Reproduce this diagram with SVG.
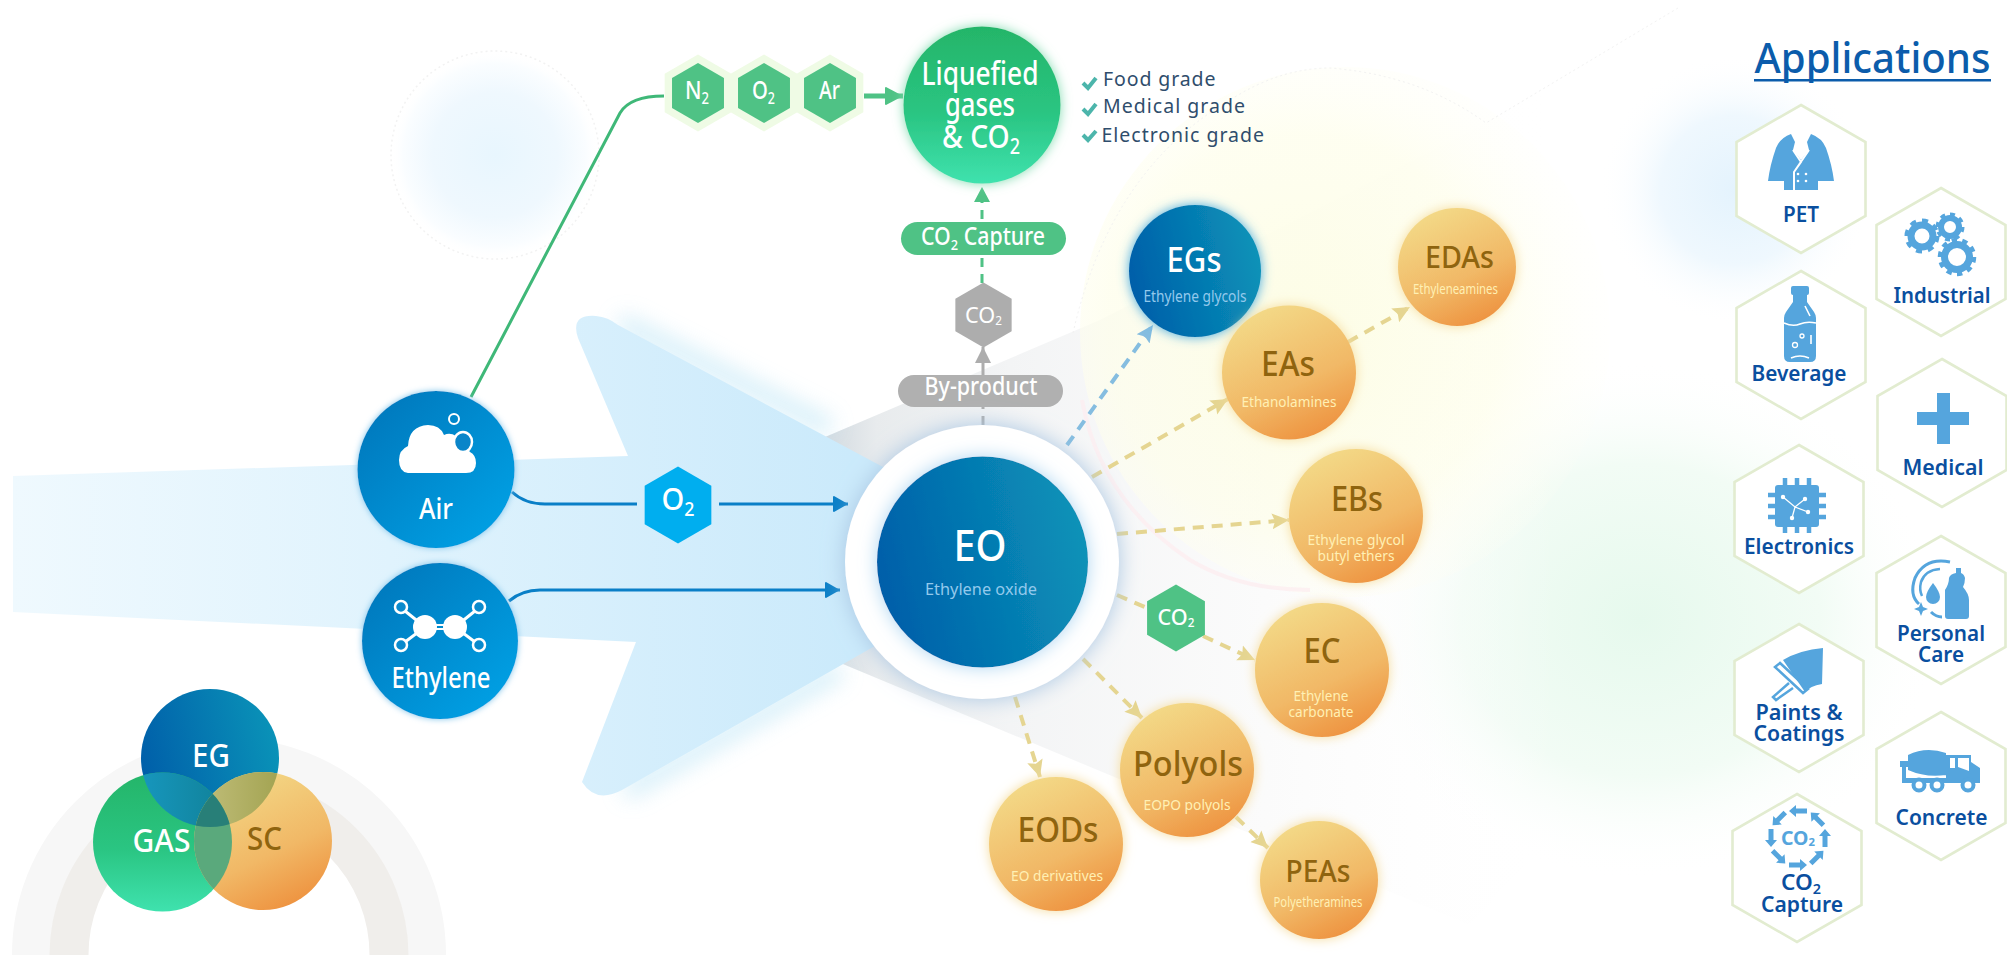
<svg xmlns="http://www.w3.org/2000/svg" width="2007" height="955" viewBox="0 0 2007 955">
<defs>
<style>
text{font-family:"Noto Sans","Open Sans","Liberation Sans",sans-serif;text-anchor:middle;font-weight:500}
.w{fill:#fff}
.big{font-size:35px;font-weight:500}
.or{fill:#8f640f}
.sub{font-size:15px;fill:#fff0b4;font-weight:400}
.bsub{font-size:15.5px;fill:#93c9ec;font-weight:400}
.pill{font-size:25px;fill:#fff}
.grade{font-size:19.5px;fill:#2f4d6c;text-anchor:start;font-weight:400}
.app{font-size:22px;font-weight:600;fill:#0a4f9f}
.ic{fill:#55a5dd}
.icl{fill:none;stroke:#55a5dd}
.wl{fill:none;stroke:#fff;stroke-width:2}
.ah{fill:#fff;stroke:none}
.hexline{fill:#fff;stroke:#e2ecd0;stroke-width:2.6}
.dy{fill:none;stroke:#e5d591;stroke-width:4;stroke-dasharray:11 8;marker-end:url(#mY)}
.dg{fill:none;stroke:#4fc285;stroke-width:3;stroke-dasharray:9 7}
.bl{fill:none;stroke:#0a7fc7;stroke-width:3}
.chk{fill:none;stroke:#4cb5ab;stroke-width:4}
</style>
<linearGradient id="gBlue" x1="0" y1="0.62" x2="1" y2="0.38"><stop offset="0" stop-color="#005ea9"/><stop offset="1" stop-color="#0a93b8"/></linearGradient>
<linearGradient id="gSrc" x1="0.1" y1="0.1" x2="0.9" y2="0.9"><stop offset="0" stop-color="#0179bd"/><stop offset="1" stop-color="#00a0e4"/></linearGradient>
<linearGradient id="gOr" x1="0.28" y1="0.05" x2="0.72" y2="0.97"><stop offset="0" stop-color="#f3d886"/><stop offset="0.6" stop-color="#f1b866"/><stop offset="1" stop-color="#ee9340"/></linearGradient>
<linearGradient id="gGr" x1="0" y1="0" x2="0" y2="1"><stop offset="0" stop-color="#24b569"/><stop offset="0.55" stop-color="#2ac582"/><stop offset="1" stop-color="#3fe2ae"/></linearGradient>
<linearGradient id="gArrow" gradientUnits="userSpaceOnUse" x1="13" y1="0" x2="850" y2="0"><stop offset="0" stop-color="#eff9fe"/><stop offset="0.45" stop-color="#e0f3fd"/><stop offset="1" stop-color="#cbeafb"/></linearGradient>
<linearGradient id="gWedge" gradientUnits="userSpaceOnUse" x1="825" y1="0" x2="1560" y2="0"><stop offset="0" stop-color="#d2dae0"/><stop offset="0.07" stop-color="#e8ebed"/><stop offset="0.25" stop-color="#f3f4f5"/><stop offset="0.6" stop-color="#fafafa" stop-opacity=".8"/><stop offset="1" stop-color="#fff" stop-opacity="0"/></linearGradient>
<linearGradient id="gL1" x1="0" y1="0" x2="1" y2="0"><stop offset="0" stop-color="#1aa2d2"/><stop offset="1" stop-color="#108096"/></linearGradient>
<linearGradient id="gL2" x1="0" y1="0" x2="1" y2="0"><stop offset="0" stop-color="#c3c07d"/><stop offset="1" stop-color="#8f9237"/></linearGradient>
<radialGradient id="gGlowC"><stop offset="0" stop-color="#e8f6fe"/><stop offset="0.6" stop-color="#eff8fe"/><stop offset="0.88" stop-color="#fafdff"/><stop offset="1" stop-color="#fff" stop-opacity="0"/></radialGradient>
<radialGradient id="gGlowB"><stop offset="0" stop-color="#e4f3fd"/><stop offset="0.55" stop-color="#eff8fe"/><stop offset="1" stop-color="#fff" stop-opacity="0"/></radialGradient>
<radialGradient id="gGlowG"><stop offset="0" stop-color="#e6f9ed"/><stop offset="0.6" stop-color="#f2fcf5"/><stop offset="1" stop-color="#fff" stop-opacity="0"/></radialGradient>
<radialGradient id="gGlowY" cx=".42" cy=".5" r=".62"><stop offset="0" stop-color="#fdfde4" stop-opacity=".95"/><stop offset="0.6" stop-color="#fefeea" stop-opacity=".7"/><stop offset="1" stop-color="#fffff8" stop-opacity="0"/></radialGradient>
<filter id="fY" x="-30%" y="-30%" width="160%" height="160%"><feDropShadow dx="0" dy="0" stdDeviation="6" flood-color="#f5dc9c"/></filter>
<filter id="fB" x="-30%" y="-30%" width="160%" height="160%"><feDropShadow dx="0" dy="0" stdDeviation="6" flood-color="#44a9dd"/></filter>
<filter id="fG" x="-30%" y="-30%" width="160%" height="160%"><feDropShadow dx="0" dy="0" stdDeviation="6" flood-color="#82dcb0"/></filter>
<filter id="fS" x="-30%" y="-30%" width="160%" height="160%"><feDropShadow dx="0" dy="0" stdDeviation="3" flood-color="#7fc4ea"/></filter>
<filter id="fE" x="-30%" y="-30%" width="160%" height="160%"><feDropShadow dx="0" dy="0" stdDeviation="11" flood-color="#a9c6e2"/></filter>
<filter id="fI" x="-30%" y="-30%" width="160%" height="160%"><feDropShadow dx="0" dy="0" stdDeviation="9" flood-color="#aed6f2"/></filter>
<filter id="bl14" filterUnits="userSpaceOnUse" x="500" y="220" width="450" height="680"><feGaussianBlur stdDeviation="11"/></filter>
<marker id="mY" markerUnits="userSpaceOnUse" markerWidth="20" markerHeight="20" refX="17" refY="9" orient="auto"><path d="M0 1L17 9L0 17L3 9z" fill="#e5d591"/></marker>
<marker id="mLB" markerUnits="userSpaceOnUse" markerWidth="20" markerHeight="20" refX="17" refY="9" orient="auto"><path d="M0 1L17 9L0 17L3 9z" fill="#85bde0"/></marker>
<marker id="mG" markerUnits="userSpaceOnUse" markerWidth="20" markerHeight="20" refX="15" refY="8" orient="auto"><path d="M0 0L15 8L0 16z" fill="#4fc285"/></marker>
<marker id="mGy" markerUnits="userSpaceOnUse" markerWidth="20" markerHeight="20" refX="16" refY="8" orient="auto"><path d="M0 0L16 8L0 16z" fill="#adadad"/></marker>
<marker id="mB" markerUnits="userSpaceOnUse" markerWidth="20" markerHeight="20" refX="15" refY="9" orient="auto"><path d="M1 1L15 9L1 17Q0 17 0 16V2Q0 1 1 1z" fill="#0a7fc7"/></marker>
<marker id="mG2" markerUnits="userSpaceOnUse" markerWidth="24" markerHeight="24" refX="18" refY="10" orient="auto"><path d="M1 1L18 10L1 19Q0 19 0 18V2Q0 1 1 1z" fill="#4fc285"/></marker>
<polygon id="hx" points="0,-1 .866,-.5 .866,.5 0,1 -.866,.5 -.866,-.5"/>
<polygon id="ah" points="0,-74 64.5,-37 64.5,37 0,74 -64.5,37 -64.5,-37"/>
<clipPath id="cEG"><circle cx="210" cy="758" r="69"/></clipPath>
<clipPath id="cGA"><circle cx="162.500" cy="842" r="69.500"/></clipPath>
<path id="co2a" d="M1789 811L1796 805V808.500H1807V813.500H1796V817z" fill="#55a5dd"/>
</defs>

<rect width="2007" height="955" fill="#fff"/>

<g id="background">
<circle cx="495" cy="155" r="104" fill="url(#gGlowC)" stroke="#f2f2f2" stroke-width="1.500" stroke-dasharray="2 3"/>
<circle cx="1735" cy="190" r="135" fill="url(#gGlowB)"/>
<ellipse cx="1640" cy="620" rx="300" ry="260" fill="url(#gGlowG)"/>
<path d="M825 437L1100 320L1486 123L1678 8V700L1470 925L838 662z" fill="url(#gWedge)"/>
<circle cx="1345" cy="332" r="265" fill="url(#gGlowY)"/>
<path d="M1082 400Q1100 500 1190 560Q1240 590 1310 590" fill="none" stroke="#fceef0" stroke-width="4" opacity=".8"/>
<path d="M1073 333Q1110 170 1230 100Q1280 68 1330 68Q1420 75 1486 123L1678 8" fill="none" stroke="#f2f2f2" stroke-dasharray="2 3"/>
<circle cx="229" cy="955" r="198" fill="none" stroke="#f7f7f7" stroke-width="38"/>
<circle cx="229" cy="955" r="160" fill="none" stroke="#f0eeeb" stroke-width="39"/>
<path d="M620 322L830 428" stroke="#bfe6f6" stroke-width="16" opacity=".75" fill="none" filter="url(#bl14)"/>
<path d="M625 792L840 670" stroke="#bfe6f6" stroke-width="16" opacity=".75" fill="none" filter="url(#bl14)"/>
<path d="M628 456L578 338Q570 314 596 316Q608 317 618 325L982 520V585L622 790Q596 804 582 782L636 642L13 612V476z" fill="url(#gArrow)"/>
</g>

<g id="connectors">
<path d="M471 397L620 113Q630 96 664 96" fill="none" stroke="#3fb878" stroke-width="3"/>
<path d="M864 96H903" fill="none" stroke="#4fc285" stroke-width="5" marker-end="url(#mG2)"/>
<path d="M512 492Q525 504 545 504H637" class="bl"/>
<path d="M719 504H848" class="bl" marker-end="url(#mB)"/>
<path d="M509 601Q522 590 540 590H840" class="bl" marker-end="url(#mB)"/>
<path d="M983 425V375" fill="none" stroke="#adadad" stroke-width="3" stroke-dasharray="9 7"/>
<path d="M983 375V347" fill="none" stroke="#adadad" stroke-width="3" marker-end="url(#mGy)"/>
<path d="M982 283V187" class="dg" marker-end="url(#mG)"/>
<path d="M1067 445L1153 325" fill="none" stroke="#85bde0" stroke-width="4" stroke-dasharray="11 8" marker-end="url(#mLB)"/>
<path d="M1092 477L1228 399" class="dy"/>
<path d="M1348 342L1410 307" class="dy"/>
<path d="M1117 534L1289 520" class="dy"/>
<path d="M1117 595L1147 608" class="dy" style="marker-end:none"/>
<path d="M1203 636L1255 660" class="dy"/>
<path d="M1083 659L1142 718" class="dy"/>
<path d="M1015 697L1040 777" class="dy"/>
<path d="M1236 817L1268 848" class="dy"/>
</g>

<g id="node-liquefied">
<circle cx="982" cy="105" r="78.500" fill="url(#gGr)" filter="url(#fG)"/>
<text class="w" x="980" y="85" font-size="33" textLength="117" lengthAdjust="spacingAndGlyphs">Liquefied</text>
<text class="w" x="980" y="116" font-size="33" textLength="70" lengthAdjust="spacingAndGlyphs">gases</text>
<text class="w" x="981" y="148" font-size="33" textLength="78" lengthAdjust="spacingAndGlyphs">&amp; CO<tspan font-size="21" dy="6">2</tspan></text>
<path class="chk" d="M1083 83L1088 88L1096 78"/>
<path class="chk" d="M1083 109L1088 114L1096 104"/>
<path class="chk" d="M1083 135L1088 140L1096 131"/>
<text class="grade" x="1103" y="86" textLength="112.500" lengthAdjust="spacing">Food grade</text>
<text class="grade" x="1103" y="113" textLength="142" lengthAdjust="spacing">Medical grade</text>
<text class="grade" x="1101.500" y="142" textLength="162.500" lengthAdjust="spacing">Electronic grade</text>
</g>

<g id="node-n2"><use href="#hx" transform="translate(698 93) scale(38.500)" fill="#effbe5"/><use href="#hx" transform="translate(698 93) scale(30)" fill="#4fc285"/><text class="w" x="697" y="99" font-size="26" textLength="24" lengthAdjust="spacingAndGlyphs">N<tspan font-size="16" dy="5">2</tspan></text></g>
<g id="node-o2-top"><use href="#hx" transform="translate(764 93) scale(38.500)" fill="#effbe5"/><use href="#hx" transform="translate(764 93) scale(30)" fill="#4fc285"/><text class="w" x="763.500" y="99" font-size="26" textLength="23" lengthAdjust="spacingAndGlyphs">O<tspan font-size="16" dy="5">2</tspan></text></g>
<g id="node-ar"><use href="#hx" transform="translate(830 93) scale(38.500)" fill="#effbe5"/><use href="#hx" transform="translate(830 93) scale(30)" fill="#4fc285"/><text class="w" x="829.500" y="99" font-size="26" textLength="21" lengthAdjust="spacingAndGlyphs">Ar</text></g>

<g id="node-co2capture"><rect x="901" y="222" width="165" height="33" rx="16.500" fill="#4fc285"/><text class="pill" x="983" y="245" textLength="124" lengthAdjust="spacingAndGlyphs">CO<tspan font-size="15" dy="5">2</tspan><tspan dy="-5"> Capture</tspan></text></g>
<g id="node-co2-gray"><use href="#hx" transform="translate(983.500 315) scale(32.500)" fill="#adadad"/><text class="w" x="983.500" y="323" style="font-weight:400" font-size="22" textLength="37" lengthAdjust="spacingAndGlyphs">CO<tspan font-size="12" dy="2">2</tspan></text></g>
<g id="node-byproduct"><rect x="898" y="375" width="165" height="32" rx="16" fill="#b0b0b0"/><text class="pill" x="981" y="395" textLength="113" lengthAdjust="spacingAndGlyphs">By-product</text></g>

<g id="node-air"><circle cx="436" cy="469.500" r="78.500" fill="url(#gSrc)" filter="url(#fS)"/>
<path class="ah" d="M408 473Q399 472 399 460Q399 450 408 446Q409 426 428 425Q440 425 444 435Q450 432 456 436L470 452Q476 455 476 463Q476 473 466 473z"/>
<circle cx="454" cy="419" r="5" fill="none" stroke="#fff" stroke-width="2"/>
<ellipse cx="463" cy="442" rx="9" ry="10" fill="#0a85c9" stroke="#fff" stroke-width="2.500"/>
<text class="w" x="436" y="519" font-size="28" textLength="34" lengthAdjust="spacingAndGlyphs">Air</text></g>

<g id="node-ethylene"><circle cx="440" cy="641" r="78" fill="url(#gSrc)" filter="url(#fS)"/>
<g stroke="#fff" stroke-width="3" fill="none"><path d="M405 611L425 627L401 645"/><path d="M475 611L455 627L479 645"/><path d="M432 625H448M432 629H448" stroke-width="2"/></g>
<circle cx="425" cy="627" r="12" fill="#fff"/><circle cx="455" cy="627" r="12" fill="#fff"/>
<g fill="#0a8acd" stroke="#fff" stroke-width="2.500"><circle cx="401" cy="607" r="6"/><circle cx="479" cy="607" r="6"/><circle cx="401" cy="645" r="6"/><circle cx="479" cy="645" r="6"/></g>
<text class="w" x="441" y="688" font-size="29" textLength="99" lengthAdjust="spacingAndGlyphs">Ethylene</text></g>

<g id="node-o2"><use href="#hx" transform="translate(678 505) scale(38.500)" fill="#00aeef"/><text class="w" x="678" y="510" font-size="31" textLength="33" lengthAdjust="spacingAndGlyphs">O<tspan font-size="19" dy="6">2</tspan></text></g>

<g id="node-eo"><circle cx="982" cy="562" r="137" fill="#fff" filter="url(#fE)"/><circle cx="982.500" cy="562" r="105.500" fill="url(#gBlue)" filter="url(#fI)"/>
<text class="w" x="980" y="561" font-size="44" textLength="53" lengthAdjust="spacingAndGlyphs">EO</text>
<text class="bsub" x="981" y="595" style="font-size:17px" textLength="112" lengthAdjust="spacingAndGlyphs">Ethylene oxide</text></g>

<g id="node-egs"><circle cx="1195" cy="271" r="66" fill="url(#gBlue)" filter="url(#fB)"/><text class="w big" x="1194" y="272" textLength="55" lengthAdjust="spacingAndGlyphs">EGs</text><text class="bsub" x="1195" y="302" textLength="103" lengthAdjust="spacingAndGlyphs">Ethylene glycols</text></g>
<g id="node-edas"><circle cx="1457" cy="267" r="59" fill="url(#gOr)" filter="url(#fY)"/><text class="big or" style="font-size:31px" x="1459.500" y="268" textLength="69" lengthAdjust="spacingAndGlyphs">EDAs</text><text class="sub" style="font-size:13.500px" x="1455.500" y="294" textLength="85" lengthAdjust="spacingAndGlyphs">Ethyleneamines</text></g>
<g id="node-eas"><circle cx="1289" cy="372.500" r="67" fill="url(#gOr)" filter="url(#fY)"/><text class="big or" x="1288" y="376" textLength="54" lengthAdjust="spacingAndGlyphs">EAs</text><text class="sub" x="1289" y="407" textLength="95" lengthAdjust="spacingAndGlyphs">Ethanolamines</text></g>
<g id="node-ebs"><circle cx="1356" cy="516" r="67" fill="url(#gOr)" filter="url(#fY)"/><text class="big or" x="1357" y="511" textLength="52" lengthAdjust="spacingAndGlyphs">EBs</text><text class="sub" x="1356" y="545" textLength="97" lengthAdjust="spacingAndGlyphs">Ethylene glycol</text><text class="sub" x="1356" y="561" textLength="77" lengthAdjust="spacingAndGlyphs">butyl ethers</text></g>
<g id="node-co2-green"><use href="#hx" transform="translate(1176 618) scale(33.400)" fill="#4fc285"/><text class="w" x="1176" y="625" font-size="22" textLength="37" lengthAdjust="spacingAndGlyphs">CO<tspan font-size="12" dy="2">2</tspan></text></g>
<g id="node-ec"><circle cx="1322" cy="670" r="67" fill="url(#gOr)" filter="url(#fY)"/><text class="big or" x="1322" y="663" textLength="37" lengthAdjust="spacingAndGlyphs">EC</text><text class="sub" x="1321" y="701" textLength="55" lengthAdjust="spacingAndGlyphs">Ethylene</text><text class="sub" x="1321" y="717" textLength="65" lengthAdjust="spacingAndGlyphs">carbonate</text></g>
<g id="node-eods"><circle cx="1056" cy="844" r="67" fill="url(#gOr)" filter="url(#fY)"/><text class="big or" x="1058" y="842" textLength="81" lengthAdjust="spacingAndGlyphs">EODs</text><text class="sub" x="1057" y="881" textLength="92" lengthAdjust="spacingAndGlyphs">EO derivatives</text></g>
<g id="node-polyols"><circle cx="1187" cy="770" r="67" fill="url(#gOr)" filter="url(#fY)"/><text class="big or" x="1188" y="776" textLength="110" lengthAdjust="spacingAndGlyphs">Polyols</text><text class="sub" x="1187" y="810" textLength="87" lengthAdjust="spacingAndGlyphs">EOPO polyols</text></g>
<g id="node-peas"><circle cx="1319" cy="880" r="59" fill="url(#gOr)" filter="url(#fY)"/><text class="big or" style="font-size:31px" x="1318" y="882" textLength="65" lengthAdjust="spacingAndGlyphs">PEAs</text><text class="sub" style="font-size:13.500px" x="1318" y="907" textLength="89" lengthAdjust="spacingAndGlyphs">Polyetheramines</text></g>

<g id="node-venn">
<circle cx="210" cy="758" r="69" fill="url(#gBlue)"/>
<circle cx="162.500" cy="842" r="69.500" fill="url(#gGr)"/>
<circle cx="263" cy="841" r="69" fill="url(#gOr)"/>
<g clip-path="url(#cEG)"><circle cx="162.500" cy="842" r="69.500" fill="url(#gL1)"/><circle cx="263" cy="841" r="69" fill="url(#gL2)"/></g>
<g clip-path="url(#cGA)"><circle cx="263" cy="841" r="69" fill="#5aa97c"/></g>
<g clip-path="url(#cEG)"><g clip-path="url(#cGA)"><circle cx="263" cy="841" r="69" fill="#287f78"/></g></g>
<text class="w" x="211" y="767" font-size="33" textLength="38" lengthAdjust="spacingAndGlyphs">EG</text>
<text class="w" x="161.500" y="852" font-size="33" textLength="58" lengthAdjust="spacingAndGlyphs">GAS</text>
<text class="or" x="264.500" y="850" font-size="33" textLength="35" lengthAdjust="spacingAndGlyphs">SC</text>
</g>

<g id="applications">
<text x="1872.500" y="73" font-size="41" fill="#0b5cab" textLength="236" lengthAdjust="spacingAndGlyphs">Applications</text>
<rect x="1754" y="79" width="237" height="2.500" fill="#0b5cab"/>
</g>

<g id="app-pet"><use href="#ah" class="hexline" transform="translate(1801 179)"/>
<path class="ic" d="M1791 134L1795 142L1793 150L1801 160L1809 150L1807 142L1811 134Q1822 138 1826 148Q1832 165 1834 181H1818V190H1784V181H1768Q1770 165 1776 148Q1780 138 1791 134z"/>
<path class="wl" d="M1793 150L1801 162L1794 172V190M1809 150L1794 172"/>
<g fill="#fff"><circle cx="1798" cy="174" r="1.300"/><circle cx="1806" cy="174" r="1.300"/><circle cx="1798" cy="181" r="1.300"/><circle cx="1806" cy="181" r="1.300"/></g>
<text class="app" x="1801" y="222" textLength="36" lengthAdjust="spacingAndGlyphs">PET</text></g>

<g id="app-industrial"><use href="#ah" class="hexline" transform="translate(1941 262)"/>
<g class="icl"><circle cx="1922" cy="236" r="11" stroke-width="7"/><circle cx="1922" cy="236" r="15.500" stroke-width="4" pathLength="16" stroke-dasharray="1 1"/>
<circle cx="1950" cy="227" r="9" stroke-width="6"/><circle cx="1950" cy="227" r="12.500" stroke-width="4" pathLength="16" stroke-dasharray="1 1"/>
<circle cx="1957" cy="257" r="12.500" stroke-width="7"/><circle cx="1957" cy="257" r="17" stroke-width="4.500" pathLength="20" stroke-dasharray="1 1"/></g>
<text class="app" x="1942" y="303" textLength="97" lengthAdjust="spacingAndGlyphs">Industrial</text></g>

<g id="app-beverage"><use href="#ah" class="hexline" transform="translate(1801 345)"/>
<path class="ic" d="M1793 286H1807Q1809 286 1809 288V293Q1809 295 1807 295V302L1814 312Q1816 315 1816 318V356Q1816 362 1810 362H1790Q1784 362 1784 356V318Q1784 315 1786 312L1793 302V295Q1791 295 1791 293V288Q1791 286 1793 286z"/>
<path class="wl" d="M1784 323Q1793 327 1800 324T1816 323M1805 306L1810 316M1811 335V344M1791 358Q1800 354 1809 358" style="stroke-width:1.600"/>
<circle cx="1802" cy="336" r="2" class="wl" style="stroke-width:1.300"/><circle cx="1795" cy="345" r="2.500" class="wl" style="stroke-width:1.300"/>
<text class="app" x="1799" y="381" textLength="95" lengthAdjust="spacingAndGlyphs">Beverage</text></g>

<g id="app-medical"><use href="#ah" class="hexline" transform="translate(1942 433)"/>
<path class="ic" d="M1937 393H1950V412H1969V425H1950V444H1937V425H1917V412H1937z"/>
<text class="app" x="1943" y="475" textLength="81" lengthAdjust="spacingAndGlyphs">Medical</text></g>

<g id="app-electronics"><use href="#ah" class="hexline" transform="translate(1799 519)"/>
<path class="icl" stroke-width="4.500" d="M1785 478V533M1797 478V533M1809 478V533M1768 495H1826M1768 506H1826M1768 517H1826"/>
<rect class="ic" x="1775" y="485" width="44" height="42" rx="3"/>
<path class="wl" style="stroke-width:1.300" d="M1783 497L1795 507L1805 499M1795 507L1808 512M1795 507L1792 518"/>
<g fill="#fff"><circle cx="1783" cy="497" r="2.200"/><circle cx="1805" cy="499" r="2.200"/><circle cx="1808" cy="512" r="2.200"/><circle cx="1792" cy="518" r="2.200"/></g>
<text class="app" x="1799" y="554" textLength="110" lengthAdjust="spacingAndGlyphs">Electronics</text></g>

<g id="app-personal"><use href="#ah" class="hexline" transform="translate(1941 610)"/>
<path class="ic" d="M1956 568H1961V573Q1964 574 1965 578Q1965 583 1963 587Q1969 594 1969 600V616Q1969 619 1966 619H1948Q1945 619 1945 616V590Q1949 584 1949 578Q1950 574 1956 573z"/>
<path class="icl" stroke-width="3" d="M1950 562Q1925 557 1915 578Q1909 595 1919 604M1931 612Q1936 617 1942 617"/>
<path class="icl" stroke-width="2.500" d="M1940 569Q1925 570 1921 582Q1919 590 1922 596"/>
<path class="ic" d="M1933 583Q1940 592 1940 597A7 7 0 0 1 1926 597Q1926 592 1933 583z"/>
<path class="ic" d="M1921 602L1923 607L1928 609L1923 611L1921 616L1919 611L1914 609L1919 607z"/>
<text class="app" x="1941" y="641" textLength="88" lengthAdjust="spacingAndGlyphs">Personal</text><text class="app" x="1941" y="662" textLength="46" lengthAdjust="spacingAndGlyphs">Care</text></g>

<g id="app-paints"><use href="#ah" class="hexline" transform="translate(1799 698)"/>
<path class="ic" d="M1783 660Q1800 650 1823 648L1822 684Q1810 686 1805 692z"/>
<path class="icl" stroke-width="2.500" d="M1775 667L1780 663L1808 689L1803 693zM1789 683L1773 697L1776 700L1793 688"/>
<text class="app" x="1799" y="720" textLength="87" lengthAdjust="spacingAndGlyphs">Paints &amp;</text><text class="app" x="1799" y="741" textLength="91" lengthAdjust="spacingAndGlyphs">Coatings</text></g>

<g id="app-concrete"><use href="#ah" class="hexline" transform="translate(1941 786)"/>
<path class="ic" d="M1908 755Q1926 746 1946 753V775Q1926 778 1908 770zM1900 761H1908V767H1900zM1902 765H1906V778H1946V755H1971V762L1980 768V783H1902z"/>
<path fill="#fff" d="M1950 758H1955V768H1950zM1958 758H1969V771L1958 767z"/>
<g fill="#fff" stroke="#55a5dd" stroke-width="4"><circle cx="1919" cy="785" r="5.500"/><circle cx="1937" cy="785" r="5.500"/><circle cx="1968" cy="785" r="5.500"/></g>
<text class="app" x="1941.500" y="825" textLength="92" lengthAdjust="spacingAndGlyphs">Concrete</text></g>

<g id="app-capture"><use href="#ah" class="hexline" transform="translate(1797 868)"/>
<use href="#co2a"/><use href="#co2a" transform="rotate(45 1798 838)"/><use href="#co2a" transform="rotate(90 1798 838)"/><use href="#co2a" transform="rotate(135 1798 838)"/><use href="#co2a" transform="rotate(180 1798 838)"/><use href="#co2a" transform="rotate(225 1798 838)"/><use href="#co2a" transform="rotate(270 1798 838)"/><use href="#co2a" transform="rotate(315 1798 838)"/>
<text x="1798" y="845" font-size="19" style="font-weight:700" fill="#55a5dd" textLength="34" lengthAdjust="spacingAndGlyphs">CO<tspan font-size="11" dy="1">2</tspan></text>
<text class="app" x="1801" y="890" textLength="40" lengthAdjust="spacingAndGlyphs">CO<tspan font-size="14" dy="4">2</tspan></text><text class="app" x="1802" y="912" textLength="82" lengthAdjust="spacingAndGlyphs">Capture</text></g>
</svg>
